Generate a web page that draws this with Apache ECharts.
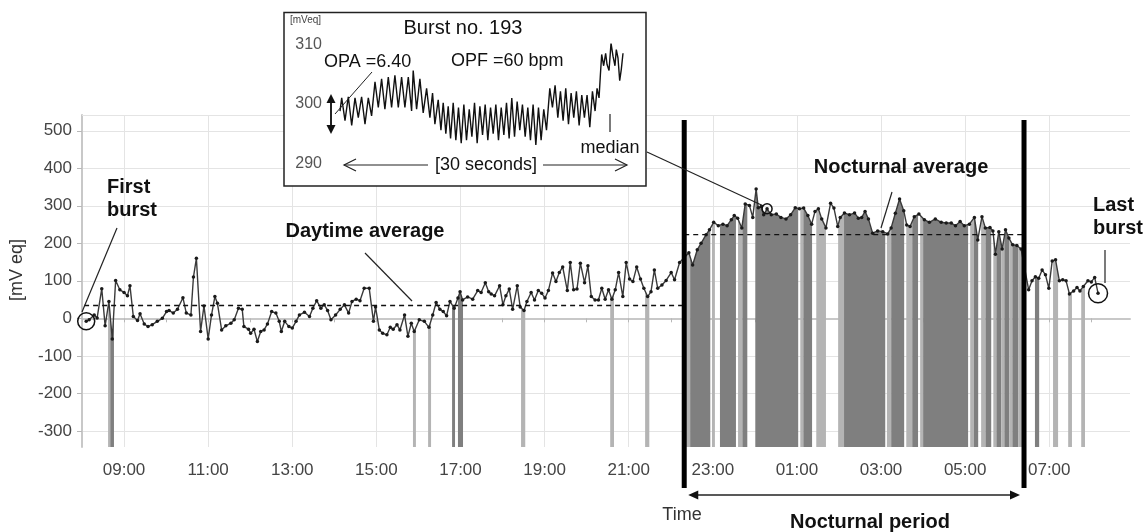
<!DOCTYPE html>
<html>
<head>
<meta charset="utf-8">
<title>Burst recording</title>
<style>
html, body { margin: 0; padding: 0; background: #fff; }
#main { width: 1146px; height: 532px; }
</style>
</head>
<body>
<div id="main"></div>
<script src="https://cdn.jsdelivr.net/npm/echarts@6/dist/echarts.min.js"></script>
<script>
// time in hours from midnight of day 1 (values above 24 are the next morning)
var trendTimes = [8.10, 8.17, 8.29, 8.36, 8.47, 8.55, 8.64, 8.72, 8.80, 8.90,
  9.00, 9.08, 9.14, 9.22, 9.32, 9.38, 9.48, 9.57, 9.67, 9.79, 9.91,
  10.01, 10.07, 10.17, 10.27, 10.40, 10.48, 10.59, 10.65, 10.72, 10.82, 10.90,
  11.00, 11.08, 11.16, 11.22, 11.32, 11.42, 11.54, 11.62, 11.72, 11.81, 11.85, 11.96,
  12.01, 12.09, 12.17, 12.25, 12.33, 12.41, 12.51, 12.61, 12.69, 12.74, 12.82, 12.92,
  13.00, 13.09, 13.17, 13.29, 13.41, 13.49, 13.58, 13.68, 13.76, 13.84, 13.92,
  14.03, 14.14, 14.24, 14.34, 14.42, 14.52, 14.61, 14.71, 14.83, 14.93, 14.98,
  15.07, 15.15, 15.25, 15.33, 15.40, 15.49, 15.56, 15.67, 15.75, 15.83, 15.90,
  16.02, 16.14, 16.25, 16.34, 16.42, 16.51, 16.59, 16.67, 16.75, 16.85, 16.94, 16.99,
  17.05, 17.17, 17.29, 17.41, 17.49, 17.59, 17.67, 17.73, 17.81, 17.93,
  18.01, 18.08, 18.16, 18.24, 18.35, 18.42, 18.51, 18.58, 18.68, 18.76, 18.85, 18.93,
  19.01, 19.09, 19.19, 19.27, 19.35, 19.43, 19.54, 19.61, 19.69, 19.77, 19.85, 19.95,
  20.03, 20.11, 20.20, 20.28, 20.36, 20.44, 20.52, 20.60, 20.68, 20.76, 20.86, 20.94,
  21.02, 21.10, 21.19, 21.28, 21.36, 21.45, 21.53, 21.61, 21.69, 21.79, 21.89,
  22.01, 22.09, 22.21, 22.43, 22.52, 22.63, 22.72, 22.84, 22.92,
  23.02, 23.13, 23.24, 23.34, 23.44, 23.51, 23.59, 23.69, 23.77, 23.87, 23.95,
  24.03, 24.08, 24.15, 24.21, 24.29, 24.39, 24.51, 24.62, 24.74, 24.85, 24.96,
  25.06, 25.16, 25.26, 25.35, 25.43, 25.51, 25.59, 25.69, 25.80, 25.88, 25.97,
  26.03, 26.13, 26.25, 26.37, 26.46, 26.54, 26.62, 26.70, 26.80, 26.92,
  27.04, 27.16, 27.24, 27.34, 27.44, 27.54, 27.61, 27.69, 27.79, 27.90,
  28.03, 28.15, 28.29, 28.43, 28.55, 28.67, 28.77, 28.88, 28.98,
  29.10, 29.22, 29.30, 29.40, 29.48, 29.59, 29.66, 29.72, 29.80, 29.88, 29.96,
  30.04, 30.13, 30.23, 30.33, 30.51, 30.59, 30.67, 30.75, 30.83, 30.91, 30.99,
  31.07, 31.15, 31.24, 31.32, 31.40, 31.48, 31.58, 31.66, 31.73, 31.81, 31.92,
  32.00, 32.08, 32.16];
var trendValues = [-8, -4, 9, 1, 79, -20, 45, -55, 101, 76,
  69, 60, 87, 5, -6, 12, -15, -22, -17, -8, 0,
  18, 21, 14, 24, 55, 14, 9, 110, 160, -35, 33,
  -55, 9, 58, 40, -31, -20, -13, -4, 27, 24, -22, -29,
  -40, -29, -62, -35, -31, -15, 18, 14, -8, -35, -8, -22,
  -26, -8, 9, 16, 5, 27, 47, 27, 36, 21, -4,
  9, 24, 36, 14, 45, 51, 47, 80, 80, -8, 30,
  -31, -40, -44, -24, -29, -17, -31, 9, -48, -13, -35,
  -4, -8, -24, 9, 42, 24, 18, 7, 45, 27, 54, 71,
  49, 57, 51, 74, 69, 95, 71, 65, 60, 87,
  36, 60, 78, 24, 87, 30, 21, 45, 69, 49, 74, 67,
  54, 74, 121, 98, 122, 137, 74, 149, 76, 78, 147, 95,
  140, 58, 49, 49, 80, 51, 76, 51, 76, 122, 58, 149,
  105, 98, 137, 105, 80, 58, 71, 129, 80, 89, 101,
  122, 103, 149, 175, 142, 183, 200, 223, 236,
  256, 247, 251, 247, 263, 274, 267, 241, 305, 301, 269,
  345, 295, 298, 276, 292, 276, 278, 269, 265, 276, 295,
  292, 294, 274, 251, 285, 292, 265, 241, 307, 294, 245,
  269, 281, 276, 281, 267, 269, 285, 265, 227, 233,
  231, 225, 241, 280, 318, 287, 249, 245, 271, 278,
  263, 256, 265, 256, 254, 254, 247, 258, 247,
  251, 269, 209, 271, 241, 242, 233, 171, 231, 185, 236,
  214, 196, 194, 185, 76, 100, 111, 107, 129, 116, 80,
  153, 156, 100, 103, 100, 65, 73, 82, 73, 85, 100,
  97, 109, 67];

// recording position bands, [start hour, end hour]
var darkBands = [[8.67, 8.76], [16.80, 16.87], [16.94, 17.06], [22.46, 22.94], [23.17, 23.55],
  [23.70, 23.82], [24.01, 25.03], [25.15, 25.36], [26.12, 27.10], [27.24, 27.55], [27.74, 27.88],
  [28.00, 29.07], [29.21, 29.31], [29.48, 29.62], [29.74, 29.86], [29.93, 30.05], [30.12, 30.26],
  [30.66, 30.76]];
var lightBands = [[8.62, 8.67], [15.87, 15.94], [16.23, 16.30], [18.44, 18.54], [20.56, 20.65],
  [21.39, 21.49], [22.34, 22.46], [22.98, 23.05], [23.60, 23.70], [25.08, 25.15], [25.46, 25.69],
  [25.98, 26.12], [27.14, 27.24], [27.60, 27.74], [27.93, 28.00], [29.12, 29.21], [29.38, 29.48],
  [29.67, 29.74], [29.86, 29.93], [30.05, 30.12], [30.26, 30.38], [31.09, 31.21], [31.45, 31.54],
  [31.76, 31.85]];

var dayAverage = 34;
var nightAverage = 223;
var nightStart = 22.32;
var nightEnd = 30.40;
var medianBurstTime = 24.29;

var hourTicks = [8, 9, 10, 11, 12, 13, 14, 15, 16, 17, 18, 19, 20, 21, 22, 23, 24, 25, 26, 27, 28, 29, 30, 31, 32];
var hourLabels = [9, 11, 13, 15, 17, 19, 21, 23, 25, 27, 29, 31];
var valueTicks = [-300, -200, -100, 0, 100, 200, 300, 400, 500];
var yMin = -343, yMax = 542;

// inset: burst no. 193, 30 seconds
var burstSeconds = [0, 0.18, 0.53, 0.88, 1.24, 1.59, 1.94, 2.29, 2.65, 3.00, 3.35, 3.71, 4.06, 4.41, 4.76,
  5.12, 5.47, 5.82, 6.18, 6.53, 6.88, 7.24, 7.59, 7.76, 8.12, 8.47, 8.82, 9.18, 9.53, 9.81,
  10.06, 10.41, 10.70, 10.94, 11.22, 11.47, 11.72, 12.00, 12.28, 12.56, 12.85, 13.13, 13.41, 13.70,
  13.98, 14.26, 14.54, 14.83, 15.11, 15.39, 15.67, 15.96, 16.24, 16.52, 16.80, 17.09, 17.37, 17.65,
  17.93, 18.21, 18.50, 18.78, 19.06, 19.34, 19.63, 19.91, 20.19, 20.47, 20.76, 21.04, 21.32, 21.60,
  21.89, 22.24, 22.52, 22.80, 23.09, 23.37, 23.65, 23.93, 24.22, 24.50, 24.78, 25.06, 25.35, 25.63,
  25.91, 26.19, 26.48, 26.76, 27.04, 27.25, 27.46, 27.60, 27.74, 27.95, 28.16, 28.31, 28.52, 28.73,
  28.94, 29.15, 29.29, 29.47, 29.65, 29.82, 30.00];
var burstValues = [298.8, 301.0, 297.2, 301.2, 296.4, 301.0, 297.7, 301.2, 296.6, 301.0, 298.0, 303.7, 299.4, 304.2, 299.1,
  304.5, 299.4, 304.8, 299.4, 304.5, 299.4, 304.5, 298.8, 305.6, 299.1, 304.2, 298.5, 302.6, 297.7, 301.8,
  296.6, 300.7, 295.6, 300.2, 295.0, 299.6, 294.2, 300.2, 293.9, 299.4, 293.4, 299.9, 293.9, 299.1,
  294.5, 300.2, 293.4, 299.6, 294.8, 299.9, 293.9, 299.4, 295.0, 299.9, 293.9, 299.4, 294.8, 300.2,
  294.2, 301.0, 294.5, 300.4, 295.6, 299.9, 294.5, 299.4, 293.9, 299.9, 293.1, 299.4, 293.9, 299.1,
  295.6, 302.6, 299.4, 303.1, 297.7, 302.1, 297.2, 302.6, 296.6, 301.8, 297.7, 302.1, 296.4, 301.5,
  297.7, 301.5, 296.1, 302.1, 298.8, 302.6, 301.0, 304.8, 308.3, 306.4, 308.5, 306.6, 305.6, 310.2,
  308.0, 306.4, 309.1, 307.7, 303.9, 305.8, 308.5];
var burstMedian = 299.5;
var burstMedianEnd = 29.1;
var burstTicks = [290, 300, 310];

var FONT = '"Liberation Sans", Arial, sans-serif';

function zip(a, b) {
  return a.map(function (v, i) { return [v, b[i]]; });
}

// value of the trend line at any hour, for the tops of the bands
function lineAt(h) {
  for (var i = 1; i < trendTimes.length; i++) {
    if (trendTimes[i] >= h) {
      var t0 = trendTimes[i - 1], t1 = trendTimes[i];
      var f = (h - t0) / (t1 - t0);
      return trendValues[i - 1] + f * (trendValues[i] - trendValues[i - 1]);
    }
  }
  return trendValues[trendValues.length - 1];
}

function renderBand(params, api) {
  var s = api.value(0), e = api.value(1);
  var pts = [api.coord([s, yMin]), api.coord([s, lineAt(s)])];
  for (var i = 0; i < trendTimes.length; i++) {
    if (trendTimes[i] > s && trendTimes[i] < e) {
      pts.push(api.coord([trendTimes[i], trendValues[i]]));
    }
  }
  pts.push(api.coord([e, lineAt(e)]));
  pts.push(api.coord([e, yMin]));
  return {
    type: 'polygon',
    shape: { points: pts },
    style: { fill: api.visual('color') }
  };
}

function hourName(v) {
  var h = Math.round(v) % 24;
  return (h < 10 ? '0' : '') + h + ':00';
}

var option = {
  animation: false,
  backgroundColor: '#fff',
  textStyle: { fontFamily: FONT },
  grid: [
    { left: 82, right: 16, top: 115, bottom: 85 },
    { left: 340, top: 44.3, width: 283, height: 119.2, z: 60 }
  ],
  xAxis: [
    {
      type: 'value', gridIndex: 0, min: 8, max: 32.92,
      axisLine: { lineStyle: { color: '#c8c8c8', width: 2 } },
      axisTick: { show: true, length: 4, customValues: hourTicks, lineStyle: { color: '#b8b8b8' } },
      axisLabel: { customValues: hourLabels, formatter: hourName, fontSize: 17, color: '#444', margin: 15 },
      splitLine: { show: false }
    },
    {
      type: 'value', gridIndex: 0, min: 8, max: 32.92,
      axisLine: { show: false },
      axisTick: { show: false, customValues: hourLabels },
      axisLabel: { show: false },
      splitLine: { show: true, lineStyle: { color: '#e4e4e4', width: 1 } }
    },
    {
      type: 'value', gridIndex: 1, min: 0, max: 30, show: false
    }
  ],
  yAxis: [
    {
      type: 'value', gridIndex: 0, min: yMin, max: yMax,
      axisLine: { show: true, lineStyle: { color: '#c8c8c8', width: 2 } },
      axisTick: { show: true, length: 5, customValues: valueTicks, lineStyle: { color: '#b8b8b8' } },
      axisLabel: { customValues: valueTicks, fontSize: 17, color: '#444', margin: 10 },
      splitLine: { show: true, lineStyle: { color: '#e4e4e4', width: 1 } }
    },
    {
      type: 'value', gridIndex: 1, min: 290, max: 310, z: 60,
      axisLine: { show: false },
      axisTick: { show: false, customValues: burstTicks },
      axisLabel: { customValues: burstTicks, fontSize: 16, color: '#555', margin: 18 },
      splitLine: { show: false }
    }
  ],
  series: [
    {
      name: 'lying', type: 'custom', xAxisIndex: 0, yAxisIndex: 0, z: 1,
      renderItem: renderBand, encode: { x: [0, 1] },
      itemStyle: { color: '#7f7f7f' },
      data: darkBands
    },
    {
      name: 'other', type: 'custom', xAxisIndex: 0, yAxisIndex: 0, z: 1,
      renderItem: renderBand, encode: { x: [0, 1] },
      itemStyle: { color: '#b4b4b4' },
      data: lightBands
    },
    {
      name: 'trend', type: 'line', xAxisIndex: 0, yAxisIndex: 0, z: 3,
      data: zip(trendTimes, trendValues),
      symbol: 'circle', symbolSize: 3.5, showSymbol: true,
      lineStyle: { color: '#3a3a3a', width: 1.4 },
      itemStyle: { color: '#1a1a1a' },
      markLine: {
        silent: true, symbol: 'none', label: { show: false },
        lineStyle: { color: '#e4e4e4', width: 1, type: 'solid' },
        data: [{ yAxis: yMax }]
      }
    },
    {
      name: 'daytime average', type: 'line', xAxisIndex: 0, yAxisIndex: 0, z: 4,
      data: [[8.05, dayAverage], [nightStart, dayAverage]],
      symbol: 'none', lineStyle: { color: '#111', width: 1.4, type: [5, 4] }
    },
    {
      name: 'nocturnal average', type: 'line', xAxisIndex: 0, yAxisIndex: 0, z: 4,
      data: [[nightStart, nightAverage], [nightEnd, nightAverage]],
      symbol: 'none', lineStyle: { color: '#111', width: 1.4, type: [5, 4] }
    },
    {
      name: 'burst 193', type: 'line', xAxisIndex: 2, yAxisIndex: 1, z: 60,
      data: zip(burstSeconds, burstValues),
      symbol: 'none', lineStyle: { color: '#111', width: 1.4 },
      markLine: {
        silent: true, symbol: 'none', label: { show: false },
        data: [
          { yAxis: 310, lineStyle: { color: '#d0d0d0', width: 1, type: 'solid' } },
          { yAxis: 300, lineStyle: { color: '#d0d0d0', width: 1, type: 'solid' } },
          [{ coord: [0, burstMedian], lineStyle: { color: '#111', width: 1.3, type: [5, 4] } },
           { coord: [burstMedianEnd, burstMedian] }]
        ]
      }
    }
  ]
};

var chart = echarts.init(document.getElementById('main'));
chart.setOption(option);

// annotations, placed from the chart's own scales where they point at data
var first = chart.convertToPixel({ gridIndex: 0 }, [trendTimes[0], trendValues[0]]);
var last = chart.convertToPixel({ gridIndex: 0 }, [trendTimes[trendTimes.length - 1], trendValues[trendValues.length - 1]]);
var medianPt = chart.convertToPixel({ gridIndex: 0 }, [medianBurstTime, lineAt(medianBurstTime)]);
var xNightStart = chart.convertToPixel({ xAxisIndex: 0 }, nightStart);
var xNightEnd = chart.convertToPixel({ xAxisIndex: 0 }, nightEnd);

function txt(text, x, y, size, bold, align, color) {
  return {
    type: 'text', z: 70,
    style: {
      text: text, x: x, y: y, fill: color || '#111',
      font: (bold ? 'bold ' : '') + size + 'px ' + FONT,
      align: align || 'center', verticalAlign: 'middle'
    }
  };
}
function seg(x1, y1, x2, y2, w, color, z) {
  return {
    type: 'line', z: z || 70,
    shape: { x1: x1, y1: y1, x2: x2, y2: y2 },
    style: { stroke: color || '#222', lineWidth: w || 1.2 }
  };
}
function tri(points, z) {
  return { type: 'polygon', z: z || 70, shape: { points: points }, style: { fill: '#111' } };
}
function ring(c, r) {
  return { type: 'circle', z: 70, shape: { cx: c[0], cy: c[1], r: r }, style: { fill: 'none', stroke: '#111', lineWidth: 1.5 } };
}

var graphics = [
  // inset frame
  { type: 'rect', z: 50, shape: { x: 284, y: 12.5, width: 362, height: 173.5 }, style: { fill: '#fff', stroke: '#222', lineWidth: 1.5 } },
  txt('[mVeq]', 290, 20, 10, false, 'left', '#444'),
  txt('Burst no. 193', 463, 28, 20, false),
  txt('OPA =6.40', 324, 62, 18, false, 'left'),
  txt('OPF =60 bpm', 451, 61, 18, false, 'left'),
  seg(372, 72, 335, 114, 1),
  seg(331, 100, 331, 128, 2),
  tri([[331, 94], [326.5, 103], [335.5, 103]]),
  tri([[331, 134], [326.5, 125], [335.5, 125]]),
  seg(610, 114, 610, 132, 1.2),
  txt('median', 610, 148, 18, false),
  txt('[30 seconds]', 486, 165, 18, false),
  seg(344, 165, 428, 165, 1.2),
  { type: 'polyline', z: 70, shape: { points: [[356, 159], [344, 165], [356, 171]] }, style: { stroke: '#222', lineWidth: 1.2, fill: 'none' } },
  seg(543, 165, 627, 165, 1.2),
  { type: 'polyline', z: 70, shape: { points: [[615, 159], [627, 165], [615, 171]] }, style: { stroke: '#222', lineWidth: 1.2, fill: 'none' } },
  seg(647, 152, medianPt[0] - 4, medianPt[1] - 3, 1.2),
  ring(medianPt, 5),

  // nocturnal period limits
  seg(xNightStart, 120, xNightStart, 488, 5, '#000', 65),
  seg(xNightEnd, 120, xNightEnd, 488, 5, '#000', 65),
  seg(xNightStart + 10, 495, xNightEnd - 10, 495, 1.5),
  tri([[xNightStart + 4, 495], [xNightStart + 14, 490.5], [xNightStart + 14, 499.5]]),
  tri([[xNightEnd - 4, 495], [xNightEnd - 14, 490.5], [xNightEnd - 14, 499.5]]),
  txt('Nocturnal period', 870, 522, 20, true),
  txt('Time', 682, 515, 18, false, 'center', '#333'),
  { type: 'text', z: 70, x: 17, y: 270, rotation: Math.PI / 2,
    style: { text: '[mV eq]', x: 0, y: 0, fill: '#333', font: '18px ' + FONT, align: 'center', verticalAlign: 'middle' } },

  // callouts
  txt('First', 107, 187, 20, true, 'left'),
  txt('burst', 107, 210, 20, true, 'left'),
  seg(117, 228, 82, 312, 1.2),
  ring(first, 8.5),
  txt('Daytime average', 365, 231, 20, true),
  seg(365, 253, 412, 301, 1.2),
  txt('Nocturnal average', 901, 167, 20, true),
  seg(892, 192, 881, 228, 1.2),
  txt('Last', 1093, 205, 20, true, 'left'),
  txt('burst', 1093, 228, 20, true, 'left'),
  seg(1105, 250, 1105, 283, 1.2),
  ring(last, 9.5)
];

chart.setOption({ graphic: graphics });
</script>
</body>
</html>
